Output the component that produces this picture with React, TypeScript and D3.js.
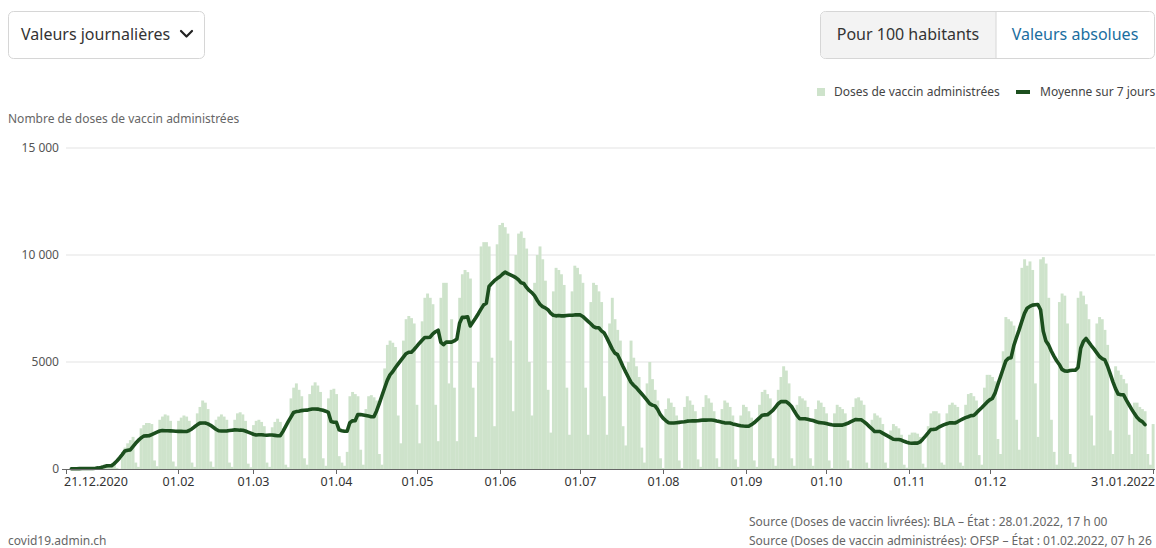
import React from "react";
import * as d3 from "d3";

// ---- DATA ----
// Daily administered doses, starting Sunday 20.12.2020, one row per week (Mon..Sun)
const firstDay = "2020-12-20";
const dosesByWeek: number[][] = [
  [0],
  [0, 0, 20, 30, 20, 5, 0],
  [20, 30, 40, 30, 30, 5, 5],
  [100, 150, 200, 250, 300, 50, 10],
  [800, 1000, 1200, 1350, 1500, 300, 100],
  [1900, 2050, 2150, 2150, 2100, 400, 130],
  [2300, 2450, 2550, 2500, 2250, 350, 120],
  [2250, 2400, 2500, 2450, 2250, 300, 100],
  [2600, 2900, 3200, 3100, 2800, 350, 100],
  [2300, 2450, 2550, 2450, 2300, 300, 100],
  [2300, 2600, 2650, 2550, 2250, 250, 80],
  [2050, 2250, 2300, 2200, 2000, 300, 100],
  [1950, 2200, 2350, 2200, 1900, 200, 80],
  [3300, 3800, 4000, 3700, 3400, 500, 200],
  [3500, 3900, 4050, 3900, 3600, 500, 150],
  [3300, 3700, 3750, 3500, 600, 300, 150],
  [800, 3400, 3600, 3500, 3400, 900, 200],
  [2800, 3400, 3450, 3350, 3200, 700, 200],
  [4700, 5800, 6000, 5900, 5700, 2500, 1200],
  [6000, 7000, 7150, 7050, 6800, 3000, 1200],
  [6900, 8000, 8200, 8000, 7700, 3000, 1300],
  [8000, 8700, 8700, 4000, 7000, 3800, 1300],
  [8000, 9100, 9300, 9200, 8900, 3800, 1500],
  [5000, 10400, 10600, 10600, 10400, 5200, 2000],
  [10500, 11400, 11500, 11300, 11000, 6000, 2700],
  [10000, 11000, 11100, 10800, 10300, 5000, 2500],
  [8700, 10000, 10400, 9800, 8800, 3700, 1700],
  [8300, 9400, 9300, 9100, 8600, 3800, 1600],
  [8300, 9500, 9400, 9100, 8700, 3800, 1600],
  [7800, 8700, 8600, 8300, 7800, 3400, 1600],
  [6800, 8000, 7000, 6500, 6000, 2000, 1100],
  [5000, 6000, 5200, 4800, 4300, 1000, 300],
  [4000, 5000, 4200, 3700, 3200, 500, 50],
  [2800, 3300, 3100, 2900, 2500, 400, 50],
  [2900, 3400, 3200, 3000, 2700, 450, 100],
  [2900, 3450, 3300, 3100, 2700, 500, 100],
  [2800, 3200, 3100, 2900, 2500, 450, 100],
  [2500, 3000, 2900, 2700, 2400, 400, 100],
  [3000, 3600, 3700, 3500, 3300, 500, 150],
  [3700, 4300, 4800, 4600, 4000, 500, 150],
  [3000, 3400, 3300, 3200, 2900, 500, 150],
  [2800, 3200, 3100, 2900, 2600, 400, 50],
  [2600, 3000, 2900, 2800, 2600, 400, 50],
  [2900, 3300, 3350, 3200, 3000, 300, 50],
  [2300, 2600, 2500, 2400, 2100, 300, 50],
  [1800, 2100, 2000, 1900, 1600, 200, 60],
  [1600, 1700, 1700, 1650, 1500, 250, 70],
  [2000, 2600, 2700, 2700, 2600, 300, 200],
  [2600, 3000, 3100, 3000, 2900, 300, 150],
  [3000, 3500, 3550, 3400, 3200, 650, 200],
  [3800, 4400, 4400, 4300, 4100, 1400, 700],
  [5500, 7100, 7000, 6900, 6700, 2300, 900],
  [9400, 9800, 9500, 9700, 9300, 4000, 1500],
  [9800, 9900, 9600, 8000, 2300, 800, 200],
  [7800, 8200, 8100, 6800, 700, 300, 100],
  [8000, 8300, 8100, 7700, 7000, 2500, 1100],
  [6800, 7100, 7000, 6500, 5800, 1800, 700],
  [4800, 4600, 4400, 4200, 4000, 1600, 700],
  [3100, 3100, 2900, 2800, 2700, 700, 200],
  [2100],
];

const yTicks = [0, 5000, 10000, 15000];
const yTickLabels = ["0", "5000", "10 000", "15 000"];
const xTickDates = [
  "2020-12-21", "2021-02-01", "2021-03-01", "2021-04-01", "2021-05-01", "2021-06-01",
  "2021-07-01", "2021-08-01", "2021-09-01", "2021-10-01", "2021-11-01", "2021-12-01", "2022-01-31",
];
const xTickLabels = [
  "21.12.2020", "01.02", "01.03", "01.04", "01.05", "01.06",
  "01.07", "01.08", "01.09", "01.10", "01.11", "01.12", "31.01.2022",
];
const legendLabels = ["Doses de vaccin administrées", "Moyenne sur 7 jours"];
const yAxisTitle = "Nombre de doses de vaccin administrées";
const sourceLines = [
  "Source (Doses de vaccin livrées): BLA – État : 28.01.2022, 17 h 00",
  "Source (Doses de vaccin administrées): OFSP – État : 01.02.2022, 07 h 26",
];

// ---- CHART ----
const W = 1156;
const H = 548;
const FONT = "'Noto Sans', 'Open Sans', sans-serif";
const BAR = "#cee3cb";
const LINE = "#1c4f1e";

const parse = (s: string) => {
  const [y, m, d] = s.split("-").map(Number);
  return new Date(y, m - 1, d);
};

export default function App() {
  const values = dosesByWeek.flat();
  const start = parse(firstDay);
  const data = values.map((v, i) => ({ date: d3.timeDay.offset(start, i), v }));

  const avg: { date: Date; v: number }[] = [];
  for (let i = 3; i < data.length - 3; i++) {
    avg.push({ date: data[i].date, v: d3.mean(data.slice(i - 3, i + 4), (d) => d.v) as number });
  }

  const x = d3.scaleTime().domain([parse("2020-12-21"), parse("2022-01-31")]).range([66, 1153]);
  const y = d3.scaleLinear().domain([0, 15000]).range([469, 148]);
  const step = x(parse("2021-01-02")) - x(parse("2021-01-01"));

  const line = d3
    .line<{ date: Date; v: number }>()
    .x((d) => x(d.date))
    .y((d) => y(d.v));

  const last = xTickDates.length - 1;

  return (
    <div style={{ position: "absolute", left: 0, top: 0 }}>
      <svg width={W} height={H} style={{ display: "block", fontFamily: FONT }}>
        <rect width={W} height={H} fill="#fff" />

        {/* dropdown */}
        <rect x={8.5} y={11.5} width={196} height={47} rx={5} fill="#fff" stroke="#d6d6d6" />
        <text x={21} y={40} fontSize={16} fill="#333">Valeurs journalières</text>
        <path d="M181 31 L186.5 36.5 L192 31" fill="none" stroke="#222" strokeWidth={2.2} strokeLinecap="round" strokeLinejoin="round" />

        {/* toggle */}
        <rect x={820.5} y={11.5} width={334} height={47} rx={5} fill="#fff" stroke="#d6d6d6" />
        <path d="M996 12 L825.5 12 Q821 12 821 16.5 L821 53.5 Q821 58 825.5 58 L996 58 Z" fill="#f3f3f3" />
        <line x1={996} y1={12} x2={996} y2={58} stroke="#d6d6d6" />
        <text x={908} y={40} fontSize={16} fill="#333" textAnchor="middle">Pour 100 habitants</text>
        <text x={1075} y={40} fontSize={16} fill="#1a6ea0" textAnchor="middle">Valeurs absolues</text>

        {/* legend */}
        <rect x={817} y={88} width={8} height={8} fill={BAR} />
        <text x={834} y={96} fontSize={12} fill="#444">{legendLabels[0]}</text>
        <line x1={1016} y1={92} x2={1030} y2={92} stroke={LINE} strokeWidth={4} />
        <text x={1040} y={96} fontSize={12} fill="#444">{legendLabels[1]}</text>

        {/* y title */}
        <text x={8} y={123} fontSize={12} fill="#666">{yAxisTitle}</text>

        {/* grid */}
        {yTicks.map((t, i) => (
          <g key={t}>
            {t > 0 && <line x1={66} x2={1155} y1={y(t)} y2={y(t)} stroke="#e3e3e3" />}
            <text x={59} y={y(t) + 4} fontSize={12} fill="#555" textAnchor="end">{yTickLabels[i]}</text>
          </g>
        ))}
        <line x1={62} x2={66} y1={469.5} y2={469.5} stroke="#666" />

        {/* bars */}
        <g>
          {data.map((d, i) => (
            <rect
              key={i}
              x={x(d.date) - step / 2}
              width={step + 0.25}
              y={y(d.v)}
              height={Math.max(0, 469 - y(d.v))}
              fill={BAR}
            />
          ))}
        </g>

        {/* line */}
        <path d={line(avg) || ""} fill="none" stroke={LINE} strokeWidth={3.6} strokeLinejoin="round" strokeLinecap="round" />

        {/* x axis */}
        <line x1={66} x2={1155} y1={469.5} y2={469.5} stroke="#666" />
        {xTickDates.map((s, i) => {
          const xx = Math.round(x(parse(s))) + 0.5;
          const anchor = i === 0 ? "start" : i === last ? "end" : "middle";
          const tx = i === 0 ? 64 : i === last ? 1155 : xx;
          return (
            <g key={s}>
              <line x1={xx} x2={xx} y1={469} y2={474} stroke="#666" />
              <text x={tx} y={486} fontSize={12.5} fill="#333" textAnchor={anchor}>
                {xTickLabels[i]}
              </text>
            </g>
          );
        })}

        {/* footer */}
        <text x={8} y={545} fontSize={12} fill="#666">covid19.admin.ch</text>
        <text x={749} y={526} fontSize={12} fill="#666">{sourceLines[0]}</text>
        <text x={749} y={545} fontSize={12} fill="#666">{sourceLines[1]}</text>
      </svg>
    </div>
  );
}
